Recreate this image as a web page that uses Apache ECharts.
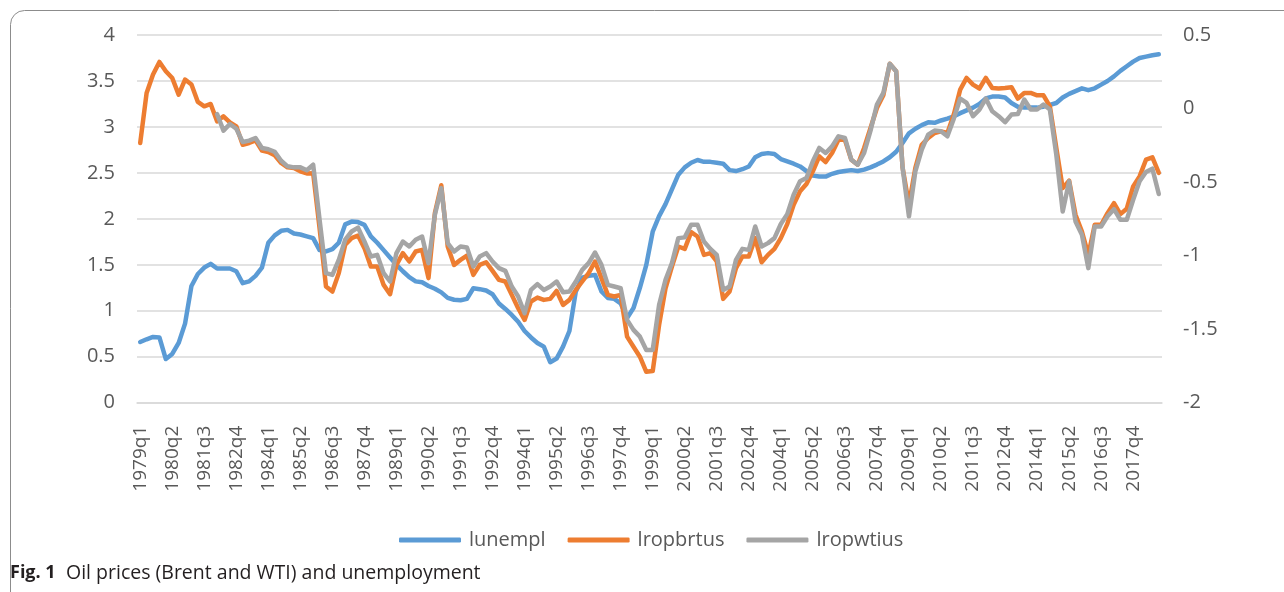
<!DOCTYPE html>
<html>
<head>
<meta charset="utf-8">
<script src="https://cdn.jsdelivr.net/npm/echarts@6/dist/echarts.min.js"></script>
<style>
html,body{margin:0;padding:0;background:#fff;}
#chart{width:1284px;height:592px;}
</style>
</head>
<body>
<div id="chart"></div>
<script>
// quarters 1979q1 .. 2018q4
const quarters = [];
for (let y = 1979; y <= 2018; y++) for (let q = 1; q <= 4; q++) quarters.push(y + 'q' + q);

const leftTicks = { min: 0, max: 4, interval: 0.5 };
const rightTicks = { min: -2, max: 0.5, interval: 0.5 };

const lunempl = [
0.66,0.69,0.715,0.71,0.475,0.53,0.65,0.86,1.27,1.40,
1.47,1.51,1.46,1.46,1.46,1.43,1.30,1.32,1.38,1.47,
1.74,1.82,1.87,1.88,1.84,1.83,1.81,1.79,1.66,1.645,
1.67,1.74,1.94,1.97,1.965,1.935,1.81,1.74,1.66,1.58,
1.50,1.43,1.365,1.32,1.31,1.27,1.24,1.20,1.14,1.12,
1.115,1.13,1.245,1.235,1.22,1.18,1.08,1.02,0.955,0.88,
0.78,0.71,0.65,0.61,0.44,0.48,0.61,0.78,1.21,1.36,
1.38,1.39,1.21,1.14,1.13,1.08,0.92,1.03,1.25,1.50,
1.86,2.03,2.16,2.32,2.48,2.56,2.61,2.64,2.62,2.62,
2.61,2.60,2.53,2.52,2.54,2.57,2.67,2.705,2.715,2.705,
2.65,2.625,2.60,2.57,2.52,2.47,2.46,2.46,2.49,2.51,
2.52,2.53,2.52,2.535,2.56,2.59,2.625,2.67,2.73,2.825,
2.93,2.98,3.02,3.05,3.045,3.07,3.09,3.115,3.15,3.18,
3.21,3.25,3.31,3.33,3.33,3.32,3.26,3.22,3.21,3.21,
3.21,3.22,3.24,3.26,3.32,3.36,3.39,3.42,3.40,3.42,
3.46,3.50,3.55,3.61,3.66,3.71,3.75,3.765,3.78,3.79
];

const lropbrtus = [
-0.234,0.106,0.231,0.317,0.254,0.208,0.095,0.197,0.163,0.045,
0.015,0.031,-0.087,-0.053,-0.094,-0.121,-0.246,-0.234,-0.216,-0.286,
-0.295,-0.318,-0.37,-0.40,-0.404,-0.427,-0.441,-0.44,-0.813,-1.21,
-1.244,-1.119,-0.926,-0.881,-0.863,-0.949,-1.074,-1.074,-1.199,-1.262,
-1.063,-0.983,-1.04,-0.972,-0.961,-1.153,-0.711,-0.522,-0.938,-1.063,
-1.029,-1.0,-1.131,-1.063,-1.045,-1.104,-1.165,-1.176,-1.267,-1.358,
-1.437,-1.312,-1.285,-1.301,-1.294,-1.24,-1.335,-1.301,-1.233,-1.176,
-1.119,-1.04,-1.153,-1.267,-1.278,-1.267,-1.551,-1.619,-1.687,-1.79,
-1.785,-1.471,-1.222,-1.074,-0.938,-0.954,-0.84,-0.87,-0.995,-0.983,
-1.04,-1.294,-1.244,-1.085,-1.006,-1.006,-0.881,-1.045,-0.995,-0.954,
-0.881,-0.786,-0.654,-0.563,-0.513,-0.427,-0.325,-0.364,-0.302,-0.212,
-0.212,-0.348,-0.382,-0.268,-0.132,0.004,0.09,0.304,0.254,-0.40,
-0.654,-0.404,-0.246,-0.2,-0.166,-0.155,-0.166,-0.041,0.129,0.208,
0.163,0.136,0.208,0.14,0.136,0.14,0.145,0.068,0.106,0.106,
0.09,0.09,0.015,-0.268,-0.541,-0.491,-0.722,-0.836,-0.995,-0.79,
-0.79,-0.711,-0.643,-0.718,-0.681,-0.529,-0.461,-0.348,-0.332,-0.438
];

const lropwtius = [
null,null,null,null,null,null,null,null,null,null,
null,null,-0.037,-0.15,-0.105,-0.137,-0.227,-0.218,-0.20,-0.268,
-0.277,-0.295,-0.355,-0.393,-0.40,-0.40,-0.42,-0.382,-0.756,-1.119,
-1.131,-1.029,-0.892,-0.836,-0.81,-0.904,-1.006,-0.995,-1.119,-1.176,
-0.983,-0.904,-0.938,-0.892,-0.87,-1.051,-0.722,-0.541,-0.915,-0.972,
-0.938,-0.945,-1.074,-1.006,-0.983,-1.04,-1.085,-1.104,-1.21,-1.278,
-1.392,-1.233,-1.194,-1.233,-1.21,-1.176,-1.249,-1.244,-1.176,-1.097,
-1.051,-0.979,-1.063,-1.199,-1.21,-1.222,-1.437,-1.505,-1.551,-1.641,
-1.641,-1.335,-1.165,-1.051,-0.881,-0.876,-0.79,-0.79,-0.904,-0.954,
-0.995,-1.233,-1.21,-1.029,-0.954,-0.961,-0.802,-0.938,-0.915,-0.881,
-0.785,-0.718,-0.586,-0.495,-0.473,-0.359,-0.268,-0.302,-0.257,-0.189,
-0.2,-0.348,-0.382,-0.302,-0.15,0.027,0.106,0.304,0.254,-0.40,
-0.733,-0.427,-0.28,-0.178,-0.15,-0.155,-0.189,-0.069,0.068,0.038,
-0.052,-0.007,0.068,-0.018,-0.052,-0.093,-0.041,-0.037,0.061,-0.007,
-0.007,0.027,-0.007,-0.314,-0.70,-0.495,-0.768,-0.858,-1.085,-0.802,
-0.802,-0.733,-0.684,-0.756,-0.756,-0.62,-0.495,-0.432,-0.409,-0.581
];

const seriesNames = ['lunempl', 'lropbrtus', 'lropwtius'];
const colors = ['#5B9BD5', '#ED7D31', '#A5A5A5'];
const captionBold = 'Fig. 1';
const captionText = 'Oil prices (Brent and WTI) and unemployment';

const FONT = '"Open Sans", "Noto Sans", sans-serif';
const txt = '#595959';

const chart = echarts.init(document.getElementById('chart'), null, { renderer: 'canvas' });
chart.setOption({
  animation: false,
  backgroundColor: '#fff',
  color: colors,
  textStyle: { fontFamily: FONT },
  grid: { left: 137, right: 122, top: 35, bottom: 189.3, containLabel: false },
  legend: {
    data: seriesNames,
    left: 394, top: 525,
    icon: 'roundRect',
    itemWidth: 62, itemHeight: 5,
    itemGap: 22,
    textStyle: { fontFamily: FONT, fontSize: 20, color: txt, padding: [0, 0, 0, 3] }
  },
  xAxis: {
    type: 'category',
    data: quarters,
    boundaryGap: true,
    axisTick: { show: false },
    axisLine: { show: true, lineStyle: { color: '#D9D9D9', width: 1.5 } },
    axisLabel: { interval: 4, rotate: 90, margin: 23, fontSize: 19, color: txt, fontFamily: FONT }
  },
  yAxis: [
    {
      type: 'value', position: 'left',
      min: leftTicks.min, max: leftTicks.max, interval: leftTicks.interval,
      axisLine: { show: false }, axisTick: { show: false },
      splitLine: { lineStyle: { color: '#D9D9D9', width: 1.5 } },
      axisLabel: { fontSize: 20, color: txt, margin: 22, fontFamily: FONT }
    },
    {
      type: 'value', position: 'right',
      min: rightTicks.min, max: rightTicks.max, interval: rightTicks.interval,
      axisLine: { show: false }, axisTick: { show: false },
      splitLine: { show: false },
      axisLabel: { fontSize: 20, color: txt, margin: 21, fontFamily: FONT }
    }
  ],
  series: [
    { name: seriesNames[0], type: 'line', yAxisIndex: 0, data: lunempl, symbol: 'none',
      lineStyle: { width: 4.5, color: colors[0], cap: 'round', join: 'round' }, z: 3 },
    { name: seriesNames[1], type: 'line', yAxisIndex: 1, data: lropbrtus, symbol: 'none',
      lineStyle: { width: 4.5, color: colors[1], cap: 'round', join: 'round' }, z: 4 },
    { name: seriesNames[2], type: 'line', yAxisIndex: 1, data: lropwtius, symbol: 'none',
      lineStyle: { width: 4.5, color: colors[2], cap: 'round', join: 'round' }, z: 5 }
  ],
  graphic: [
    { type: 'rect', shape: { x: 10.5, y: 10.5, width: 1300, height: 620, r: [14, 0, 0, 0] },
      style: { fill: 'none', stroke: '#8c8c8c', lineWidth: 1 }, silent: true },
    { type: 'text', left: 10, top: 564,
      style: { text: captionBold, font: 'bold 18px "Open Sans", sans-serif', fill: '#231f20' } },
    { type: 'text', left: 66, top: 563,
      style: { text: captionText, font: '19.5px "Open Sans", sans-serif', fill: '#231f20' } }
  ]
});
</script>
</body>
</html>
